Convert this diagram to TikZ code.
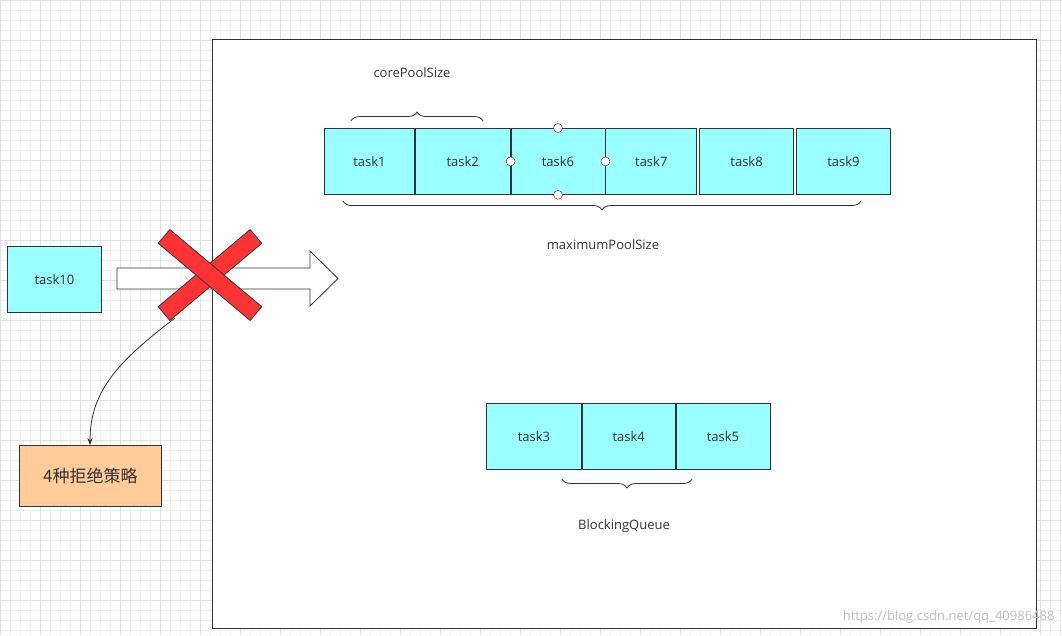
\documentclass[tikz,border=0pt]{standalone}
\usepackage{fontspec}
\setmainfont{Open Sans}
\newfontfamily\cjk{Noto Sans CJK SC}
\usetikzlibrary{positioning,decorations.pathreplacing,arrows.meta}
\definecolor{taskc}{HTML}{99FFFF}
\definecolor{crossc}{HTML}{FF3333}
\definecolor{refc}{HTML}{FFCC99}
\definecolor{edgec}{HTML}{333333}
\tikzset{
  task/.style={draw=edgec,thick,fill=taskc,minimum height=66pt,inner sep=0pt,
    font=\fontsize{13}{15}\selectfont,text=edgec},
  brc/.style={decoration={brace,amplitude=9pt},decorate,draw=edgec,thick},
  lbl/.style={font=\fontsize{13}{15}\selectfont,text=edgec},
  pin/.style={circle,draw=red!60!black,fill=white,inner sep=0pt,minimum size=9pt}
}
\begin{document}
\begin{tikzpicture}[x=1pt,y=-1pt]
  \useasboundingbox (0,0) rectangle (1062,635);
  % grid background
  \draw[black!6,step=10pt] (0,0) grid (1062,635);
  \draw[black!12,step=40pt] (0,0) grid (1062,635);
  % pool
  \draw[edgec,thick,fill=white] (212,39) rectangle (1036,628);

  % task row
  \node[task,minimum width=90pt,anchor=north west] (t1) at (324,128) {task1};
  \node[task,minimum width=95pt,right=0pt of t1] (t2) {task2};
  \node[task,minimum width=94pt,right=0pt of t2] (t6) {task6};
  \node[task,minimum width=91pt,right=0pt of t6] (t7) {task7};
  \node[task,minimum width=94pt,right=2pt of t7] (t8) {task8};
  \node[task,minimum width=94pt,right=2pt of t8] (t9) {task9};
  \foreach \a in {north,south,east,west} \node[pin] at (t6.\a) {};

  % braces
  \draw[brc] (351,121) -- (483,121);
  \node[lbl] (core) at (412,73) {corePoolSize};
  \draw[brc] (861,201) -- (343,201);
  \node[lbl] (maxp) at (603,245) {maximumPoolSize};

  % queue
  \node[task,minimum width=95pt,anchor=north west] (t3) at (486,403) {task3};
  \node[task,minimum width=93pt,right=0pt of t3] (t4) {task4};
  \node[task,minimum width=94pt,right=0pt of t4] (t5) {task5};
  \draw[brc] (692,479) -- (562,479);
  \node[lbl] (queue) at (624,526) {BlockingQueue};

  % incoming task
  \node[task,minimum width=94pt,anchor=north west] (t10) at (7,246) {task10};
  \draw[edgec,thick,fill=white] (117,268) -- (310,268) -- (310,251) -- (338,278.5)
    -- (310,306) -- (310,289) -- (117,289) -- cycle;
  % cross
  \foreach \r in {40,-40}
    \draw[edgec,thick,fill=crossc,rotate around={\r:(210,275)}] (150,266) rectangle (270,284);
  \coordinate (crossend) at (175,318);

  % rejection
  \node[draw=edgec,thick,fill=refc,minimum width=142pt,minimum height=61pt,
    anchor=north west,font=\cjk\fontsize{17}{20}\selectfont,text=edgec] (refuse) at (19,445) {4种拒绝策略};
  \draw[edgec,thick,-{Stealth[length=7pt]}] (crossend) .. controls (120,360) and (90,390) .. (refuse.north -| 90,0);

  \node[text=black!25,font=\fontsize{13}{15}\selectfont,anchor=east] (mark) at (1058,617) {https://blog.csdn.net/qq\_40986488};
\end{tikzpicture}
\end{document}
